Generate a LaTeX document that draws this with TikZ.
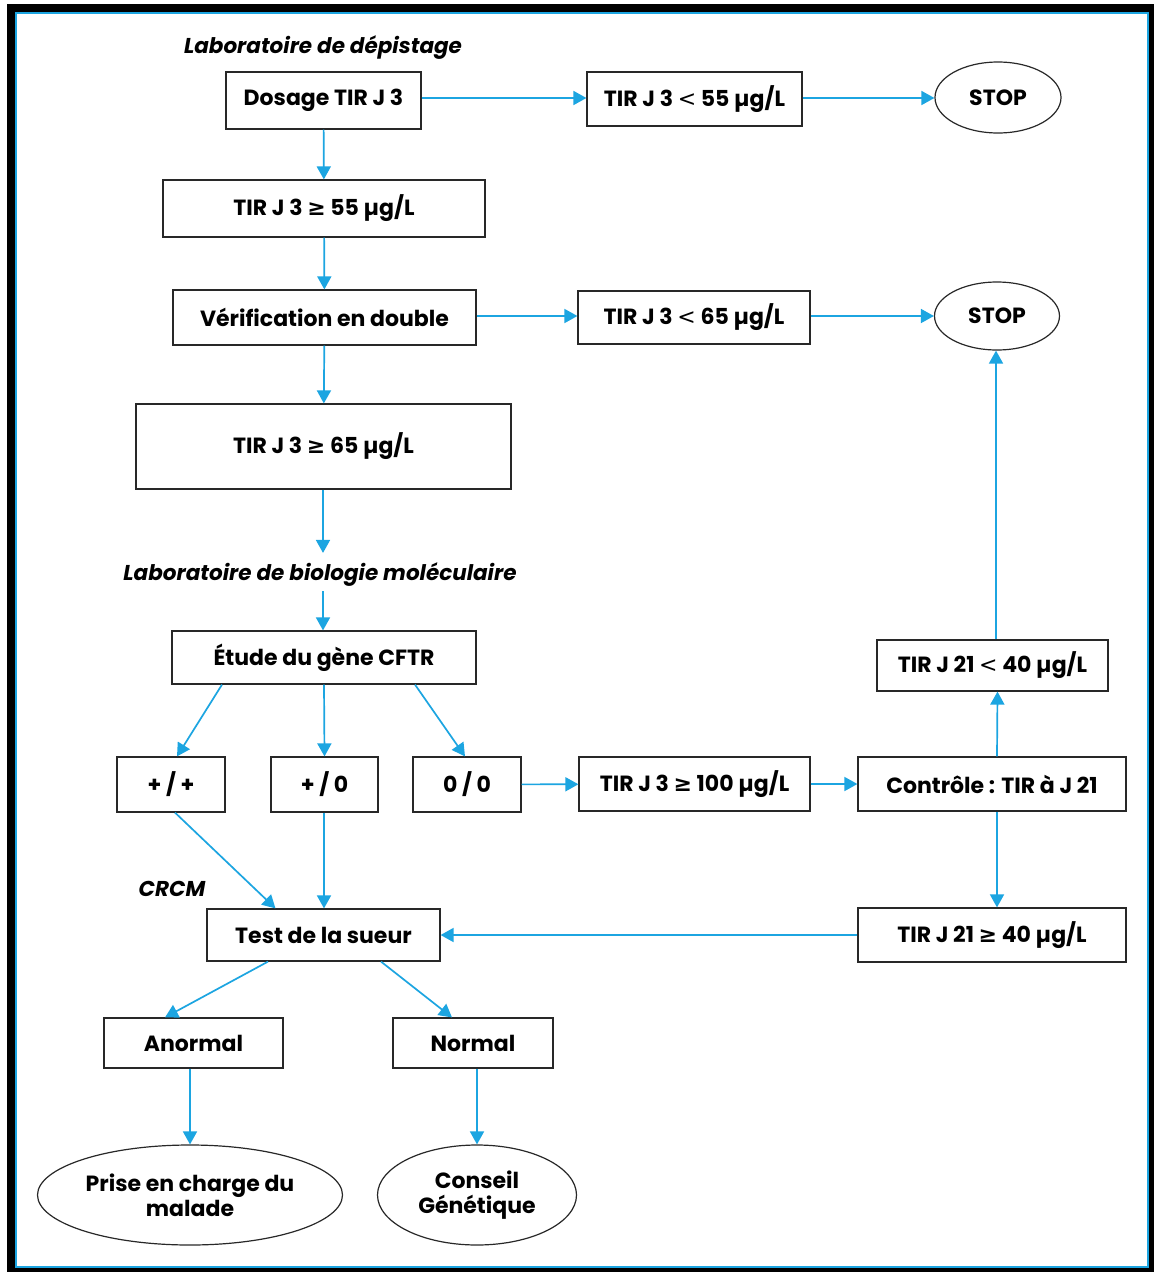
\documentclass[tikz,border=0pt]{standalone}
\usepackage{fontspec}
\setmainfont{Poppins}
\newfontfamily\symfont{DejaVu Sans}
\usetikzlibrary{arrows.meta,shapes.geometric}
\definecolor{cyanline}{RGB}{28,165,225}
\definecolor{boxgray}{RGB}{40,40,40}
\newcommand{\mygeq}{{\symfont\bfseries ≥}}
\newcommand{\mylt}{{\symfont\mdseries <}}
\begin{document}
\begin{tikzpicture}[x=1pt,y=-1pt,
  font=\bfseries\fontsize{22}{25}\selectfont,
  box/.style={draw=boxgray,line width=1.2pt,fill=white,inner sep=0pt,align=center,anchor=center},
  oval/.style={ellipse,draw=boxgray,line width=1.2pt,fill=white,inner sep=0pt,align=center,anchor=center},
  sz/.style 2 args={minimum width=#1pt,minimum height=#2pt},
  lab/.style={font=\bfseries\itshape\fontsize{21.5}{24}\selectfont,inner sep=1pt,anchor=center},
  arr/.style={draw=cyanline,line width=1.7pt,-{Triangle[length=13pt,width=14pt]}}]
\useasboundingbox (0,0) rectangle (1154,1272);
\fill[black] (7,4) rectangle (1154,1272);
\fill[white] (15,12) rectangle (1149,1268);
\draw[cyanline,line width=1.5pt] (16,13) rectangle (1148,1267);

% labels
\node[lab] (labdep) at (323,48) {Laboratoire de dépistage};
\node[lab] (labbio) at (320,575) {Laboratoire de biologie moléculaire};
\node[lab] (labcrcm) at (172,889) {CRCM};

% nodes
\node[box,sz={195}{57}] (dosage) at (323.5,100.5) {Dosage TIR J 3};
\node[box,sz={215}{54}] (lt55) at (694.5,99) {TIR J 3 \mylt\ 55 µg/L};
\node[oval,sz={126}{71}] (stop1) at (998,97.5) {STOP};
\node[box,sz={322}{57}] (ge55) at (324,208.5) {TIR J 3 \mygeq\ 55 µg/L};
\node[box,sz={303}{55}] (verif) at (324.5,317.5) {Vérification en double};
\node[box,sz={232}{53}] (lt65) at (694,317.5) {TIR J 3 \mylt\ 65 µg/L};
\node[oval,sz={125}{68}] (stop2) at (997,316) {STOP};
\node[box,sz={375}{85}] (ge65) at (323.5,446.5) {TIR J 3 \mygeq\ 65 µg/L};
\node[box,sz={304}{53}] (etude) at (324,657.5) {Étude du gène CFTR};
\node[box,sz={108}{55}] (pp) at (171,784.5) {+ / +};
\node[box,sz={107}{55}] (p0) at (324.5,784.5) {+ / 0};
\node[box,sz={108}{55}] (z0) at (467,784.5) {0 / 0};
\node[box,sz={231}{54}] (ge100) at (694.5,784) {TIR J 3 \mygeq\ 100 µg/L};
\node[box,sz={268}{54}] (ctrl) at (992,784) {Contrôle : TIR à J 21};
\node[box,sz={231}{51}] (lt40) at (992.5,665.5) {TIR J 21 \mylt\ 40 µg/L};
\node[box,sz={268}{54}] (ge40) at (992,935) {TIR J 21 \mygeq\ 40 µg/L};
\node[box,sz={233}{52}] (test) at (323.5,935) {Test de la sueur};
\node[box,sz={179}{50}] (anormal) at (193.5,1043) {Anormal};
\node[box,sz={160}{50}] (normal) at (473,1043) {Normal};
\node[oval,sz={305}{100}] (prise) at (190,1195) {Prise en charge du\\malade};
\node[oval,sz={199}{100}] (conseil) at (477,1195) {Conseil\\Génétique};

% connectors
\draw[arr] (dosage.east |- 0,98) -- (lt55.west |- 0,98);
\draw[arr] (lt55.east |- 0,98) -- (stop1.west |- 0,98);
\draw[arr] (dosage) -- (ge55);
\draw[arr] (ge55) -- (verif);
\draw[arr] (verif.east |- 0,316) -- (lt65.west |- 0,316);
\draw[arr] (lt65.east |- 0,316) -- (stop2.west |- 0,316);
\draw[arr] (verif) -- (ge65);
\coordinate (bioa) at ([xshift=-0.5pt]ge65.south);
\coordinate (bioin) at ([yshift=9pt]bioa |- labbio.north);
\coordinate (bioout) at ([yshift=-3pt]bioa |- labbio.south);
\draw[arr] (bioa) -- (bioin);
\draw[arr] (bioout) -- (bioa |- etude.north);
\draw[arr] ([xshift=-102pt]etude.south) -- ([xshift=6pt]pp.north);
\draw[arr] (etude.south) -- (p0.north);
\draw[arr] ([xshift=91pt]etude.south) -- ([xshift=-2pt]z0.north);
\draw[arr] (z0) -- (ge100);
\draw[arr] (ge100) -- (ctrl);
\draw[arr] ([xshift=5pt]ctrl.north) -- ([xshift=5pt]lt40.south);
\coordinate (upa) at ([xshift=3.5pt]lt40.north);
\draw[arr] (upa) -- (upa |- stop2.south);
\draw[arr] ([xshift=5pt]ctrl.south) -- ([xshift=5pt]ge40.north);
\draw[arr] (ge40) -- (test);
\draw[arr] ([xshift=4pt]pp.south) -- ([xshift=-48pt]test.north);
\coordinate (p0a) at ([xshift=-0.5pt]p0.south);
\draw[arr] (p0a) -- (p0a |- test.north);
\draw[arr] ([xshift=-55.5pt]test.south) -- ([xshift=-28.5pt]anormal.north);
\draw[arr] ([xshift=57.5pt]test.south) -- ([xshift=-21pt]normal.north);
\draw[arr] ([xshift=-3.5pt]anormal.south) -- (prise.north);
\draw[arr] ([xshift=4pt]normal.south) -- (conseil.north);
\end{tikzpicture}
\end{document}
